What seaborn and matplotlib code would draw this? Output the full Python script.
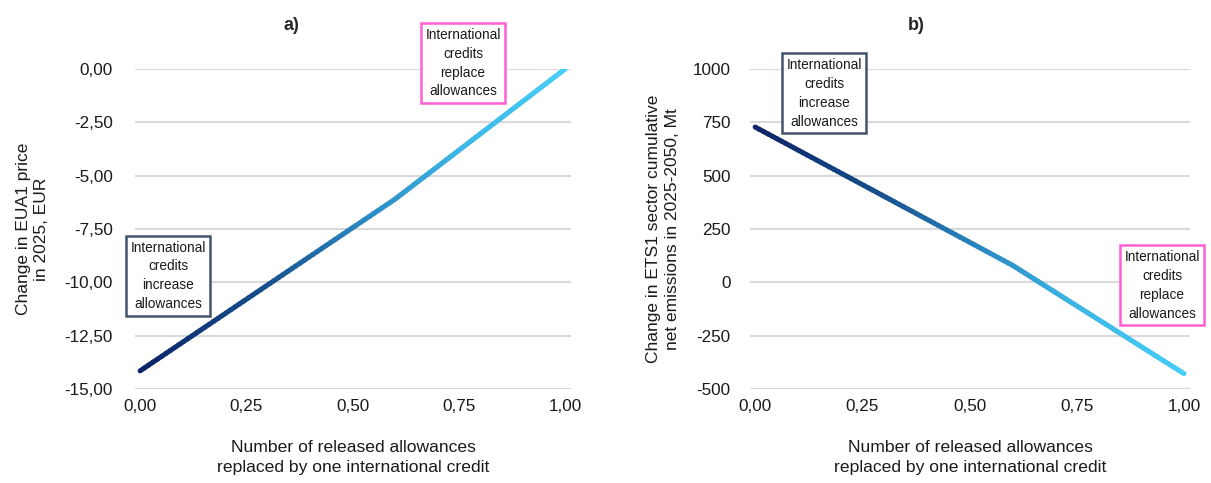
import numpy as np
import pandas as pd
import matplotlib
matplotlib.use("Agg")
import matplotlib.pyplot as plt
import seaborn as sns
from matplotlib.collections import LineCollection
from matplotlib.colors import LinearSegmentedColormap
from matplotlib.ticker import FuncFormatter, FixedLocator

# Share of released allowances replaced by one international credit
share = [0.0, 0.6, 1.0]
# a) change in EUA1 price in 2025, EUR
price_change = [-14.15, -6.1, 0.0]
# b) change in ETS1 cumulative net emissions 2025-2050, Mt
emissions_change = [728, 80, -428]

x_ticks = [0.0, 0.25, 0.5, 0.75, 1.0]
price_ticks = [0.0, -2.5, -5.0, -7.5, -10.0, -12.5, -15.0]
emis_ticks = [1000, 750, 500, 250, 0, -250, -500]

xlabel = "Number of released allowances\nreplaced by one international credit"
ylabel_a = "Change in EUA1 price\nin 2025, EUR"
ylabel_b = "Change in ETS1 sector cumulative\nnet emissions in 2025-2050, Mt"
note_replace = "International\ncredits\nreplace\nallowances"
note_increase = "International\ncredits\nincrease\nallowances"

sns.set_theme(style="white")
plt.rcParams["font.family"] = ["Liberation Sans", "DejaVu Sans"]

cmap = LinearSegmentedColormap.from_list(
    "blues_grad",
    [(0.0, "#0a2366"), (0.3, "#17518f"), (0.55, "#2b8dc6"), (0.75, "#3cb6e6"), (1.0, "#46cdf8")],
)

fig = plt.figure(figsize=(12.11, 4.83), dpi=100)
ax_a = fig.add_axes([135 / 1211, 1 - 389 / 483, 436 / 1211, 320 / 483])
ax_b = fig.add_axes([750 / 1211, 1 - 389 / 483, 440 / 1211, 320 / 483])


def gradient_line(ax, xs, ys):
    df = pd.DataFrame({"x": xs, "y": ys})
    sns.lineplot(data=df, x="x", y="y", ax=ax, color="#2b8dc6", lw=3.5)
    line = ax.lines[-1]
    line.set_visible(False)
    px, py = line.get_xdata(), line.get_ydata()
    # split each drawn segment into short pieces so the stroke can shade along x
    segs, cvals = [], []
    for i in range(len(px) - 1):
        t = np.linspace(0, 1, 60)
        sx = px[i] + (px[i + 1] - px[i]) * t
        sy = py[i] + (py[i + 1] - py[i]) * t
        pts = np.column_stack([sx, sy])
        for j in range(len(pts) - 1):
            segs.append(pts[j:j + 2])
            cvals.append((sx[j] + sx[j + 1]) / 2)
    lc = LineCollection(segs, colors=cmap(np.array(cvals)), linewidths=3.6,
                        capstyle="round", joinstyle="round", zorder=3)
    ax.add_collection(lc)


def style_axis(ax, yticks, ylim, fmt, ypad, ylabel, ylabpad):
    ax.set_xlim(-0.012, 1.014)
    ax.set_ylim(*ylim)
    ax.xaxis.set_major_locator(FixedLocator(x_ticks))
    ax.yaxis.set_major_locator(FixedLocator(yticks))
    ax.xaxis.set_major_formatter(FuncFormatter(lambda v, p: f"{v:.2f}".replace(".", ",")))
    ax.yaxis.set_major_formatter(FuncFormatter(fmt))
    ax.grid(axis="y", color="#d9d9d9", lw=1.5)
    ax.grid(axis="x", visible=False)
    ax.set_axisbelow(True)
    for s in ax.spines.values():
        s.set_visible(False)
    ax.tick_params(axis="y", length=0, pad=ypad, labelsize=12.3, labelcolor="#1a1a1a")
    ax.tick_params(axis="x", length=0, pad=7, labelsize=12.3, labelcolor="#1a1a1a")
    ax.set_xlabel(xlabel, fontsize=12.6, labelpad=19, color="#1a1a1a", linespacing=1.4)
    ax.set_ylabel(ylabel, fontsize=12.5, labelpad=ylabpad, color="#1a1a1a", linespacing=1.3)


def note(ax, x, y, text, edge):
    ax.text(x, y, text, ha="center", va="center", fontsize=9.8, linespacing=1.45,
            color="#1a1a1a", zorder=5,
            bbox=dict(boxstyle="square,pad=0.32", fc="white", ec=edge, lw=1.8))


gradient_line(ax_a, share, price_change)
style_axis(ax_a, price_ticks, (-15, 0), lambda v, p: f"{v:.2f}".replace(".", ",").replace("-0,00", "0,00"),
           16, ylabel_a, 11)
note(ax_a, 0.76, 0.28, note_replace, "#ff5fd2")
note(ax_a, 0.066, -9.7, note_increase, "#44546a")

gradient_line(ax_b, share, emissions_change)
style_axis(ax_b, emis_ticks, (-500, 1000), lambda v, p: f"{v:.0f}", 14, ylabel_b, 9)
note(ax_b, 0.161, 887, note_increase, "#44546a")
note(ax_b, 0.949, -13, note_replace, "#ff5fd2")

fig.text(291 / 1211, 1 - 25 / 483, "a)", ha="center", va="center", fontsize=13, fontweight="bold")
fig.text(916 / 1211, 1 - 25 / 483, "b)", ha="center", va="center", fontsize=13, fontweight="bold")

fig.savefig("out.png", dpi=100, facecolor="white")
